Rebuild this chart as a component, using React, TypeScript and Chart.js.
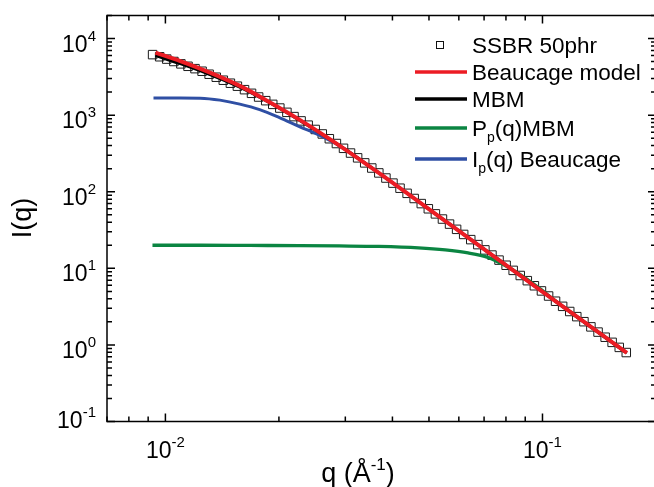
import React, { useEffect, useRef } from "react";
import { Chart, registerables } from "chart.js";

Chart.register(...registerables);

// Measured scattering curve: SSBR filled with 50 phr
const qData = [
  0.009247, 0.009655, 0.01008, 0.01053, 0.01099, 0.01148, 0.01198, 0.01251, 0.01306, 0.01364,
  0.01424, 0.01487, 0.01552, 0.01621, 0.01692, 0.01767, 0.01845, 0.01926, 0.02011, 0.021,
  0.02193, 0.0229, 0.02391, 0.02496, 0.02606, 0.02721, 0.02841, 0.02967, 0.03097, 0.03234,
  0.03377, 0.03526, 0.03681, 0.03844, 0.04013, 0.0419, 0.04375, 0.04568, 0.0477, 0.0498,
  0.052, 0.05429, 0.05669, 0.05919, 0.0618, 0.06453, 0.06738, 0.07035, 0.07345, 0.07669,
  0.08008, 0.08361, 0.0873, 0.09115, 0.09517, 0.09937, 0.1038, 0.1083, 0.1131, 0.1181,
  0.1233, 0.1288, 0.1344, 0.1404, 0.1466, 0.153, 0.1598, 0.1668,
];
const iData = [
  6170, 5788, 5392, 5017, 4670, 4344, 4045, 3744, 3423, 3127,
  2858, 2612, 2388, 2151, 1928, 1725, 1545, 1383, 1238, 1088,
  957, 841, 740, 650, 568, 492, 426, 369, 320, 277,
  238, 204, 176, 151, 129.6, 111.2, 95.3, 81.6, 70.0, 59.9,
  51.4, 44.0, 37.8, 32.3, 27.7, 23.7, 20.4, 17.4, 14.9, 12.8,
  10.97, 9.4, 8.06, 6.9, 5.92, 5.07, 4.35, 3.72, 3.19, 2.73,
  2.34, 2.01, 1.72, 1.47, 1.26, 1.08, 0.928, 0.795,
];

// Beaucage unified fit
const qBeaucage = [0.009412, 0.01095, 0.01313, 0.01575, 0.0189, 0.02266, 0.02888, 0.0368, 0.05623, 0.08594, 0.1236, 0.1674];
const iBeaucage = [6561, 5082, 3594, 2409, 1475, 873, 404, 176.2, 38.9, 8.52, 2.32, 0.786];

// MBM fit
const qMBM = [0.009412, 0.01095, 0.01313, 0.01575, 0.0189, 0.02266, 0.02888, 0.0368, 0.05623, 0.08594, 0.1236, 0.1674];
const iMBM = [5998, 4695, 3383, 2316, 1452, 858, 404, 176.2, 38.9, 8.52, 2.32, 0.786];

// Primary particle term of the MBM
const qPpMBM = [0.00924, 0.01236, 0.01674, 0.02266, 0.02888, 0.0368, 0.04689, 0.05524, 0.06347, 0.07163, 0.07847, 0.08594, 0.09701, 0.1095, 0.1313, 0.1654];
const iPpMBM = [20.0, 20.0, 19.9, 19.8, 19.6, 19.3, 18.5, 17.4, 15.9, 13.9, 11.3, 8.73, 5.73, 3.58, 1.87, 0.82];

// Primary particle level of the Beaucage fit
const qIpBeaucage = [0.009298, 0.01095, 0.01236, 0.01395, 0.01575, 0.01778, 0.02007, 0.02266, 0.02558, 0.02888, 0.0368, 0.05623, 0.08594, 0.1236, 0.1654];
const iIpBeaucage = [1678, 1678, 1668, 1571, 1393, 1180, 928, 708, 548, 400, 176.2, 38.9, 8.52, 2.32, 0.82];

// Axis tick labels (powers of ten)
const xTickValues = [0.01, 0.1];
const xTickExponents = ["-2", "-1"];
const yTickValues = [0.1, 1, 10, 100, 1000, 10000];
const yTickExponents = ["-1", "0", "1", "2", "3", "4"];

const X_MIN = 0.007;
const X_MAX = 0.2;
const Y_MIN = 0.1;
const Y_MAX = 20000;

const FONT = "'Liberation Sans', Arial, Helvetica, sans-serif";
const RED = "#ec1c24";
const BLACK = "#000000";
const GREEN = "#0b8542";
const BLUE = "#2f4fa4";

type Part = { text: string; size: number; dy: number };

const pairs = (xs: number[], ys: number[]) => xs.map((x, i) => ({ x, y: ys[i] }));

function logTicks(min: number, max: number) {
  const out: { v: number; major: boolean }[] = [];
  for (let d = Math.floor(Math.log10(min)); d <= Math.ceil(Math.log10(max)); d++) {
    for (let m = 1; m <= 9; m++) {
      const v = m * Math.pow(10, d);
      if (v >= min * 0.9999 && v <= max * 1.0001) out.push({ v, major: m === 1 });
    }
  }
  return out;
}

// Writes a run of text pieces, each with its own size and vertical shift
function drawScript(ctx: CanvasRenderingContext2D, x: number, y: number, parts: Part[]) {
  let cx = x;
  for (const p of parts) {
    ctx.font = `${p.size}px ${FONT}`;
    ctx.fillText(p.text, cx, y + p.dy);
    cx += ctx.measureText(p.text).width;
  }
  return cx - x;
}

function measureScript(ctx: CanvasRenderingContext2D, parts: Part[]) {
  let w = 0;
  for (const p of parts) {
    ctx.font = `${p.size}px ${FONT}`;
    w += ctx.measureText(p.text).width;
  }
  return w;
}

const powerLabel = (exp: string): Part[] => [
  { text: "10", size: 23, dy: 0 },
  { text: exp, size: 15, dy: -11 },
];

const framePlugin = {
  id: "frameAndLabels",
  afterDatasetsDraw(chart: any) {
    const { ctx, chartArea: a, scales } = chart;
    const xs = scales.x;
    const ys = scales.y;
    ctx.save();
    ctx.strokeStyle = "#000";
    ctx.fillStyle = "#000";
    ctx.lineWidth = 1.5;
    ctx.strokeRect(a.left, a.top, a.right - a.left, a.bottom - a.top);

    // inward ticks on all four sides
    ctx.beginPath();
    for (const t of logTicks(X_MIN, X_MAX)) {
      const px = xs.getPixelForValue(t.v);
      const len = t.major ? 8 : 5;
      ctx.moveTo(px, a.bottom);
      ctx.lineTo(px, a.bottom - len);
      ctx.moveTo(px, a.top);
      ctx.lineTo(px, a.top + len);
    }
    for (const t of logTicks(Y_MIN, Y_MAX)) {
      const py = ys.getPixelForValue(t.v);
      const len = t.major ? 8 : 5;
      ctx.moveTo(a.left, py);
      ctx.lineTo(a.left + len, py);
      ctx.moveTo(a.right, py);
      ctx.lineTo(a.right - len, py);
    }
    ctx.stroke();

    ctx.textBaseline = "alphabetic";
    ctx.textAlign = "left";

    // x tick labels
    xTickValues.forEach((v, i) => {
      const parts = powerLabel(xTickExponents[i]);
      const w = measureScript(ctx, parts);
      drawScript(ctx, xs.getPixelForValue(v) - w / 2, 458, parts);
    });

    // y tick labels; the lowest one is lifted a little above the x axis labels
    yTickValues.forEach((v, i) => {
      const parts = powerLabel(yTickExponents[i]);
      const w = measureScript(ctx, parts);
      const py = ys.getPixelForValue(v);
      const base = v === Y_MIN ? py + 6 : py + 13;
      drawScript(ctx, 96 - w, base, parts);
    });

    // axis titles
    const xt: Part[] = [
      { text: "q (Å", size: 27, dy: 0 },
      { text: "-1", size: 17, dy: -12 },
      { text: ")", size: 27, dy: 0 },
    ];
    const xw = measureScript(ctx, xt);
    drawScript(ctx, 358 - xw / 2, 482, xt);

    ctx.save();
    ctx.translate(31, 218);
    ctx.rotate(-Math.PI / 2);
    ctx.font = `27px ${FONT}`;
    ctx.textAlign = "center";
    ctx.fillText("I(q)", 0, 0);
    ctx.restore();

    // legend
    const lx0 = 415;
    const lx1 = 467;
    const tx = 472;
    ctx.lineWidth = 1;
    ctx.strokeStyle = "#111";
    ctx.strokeRect(440 - 3.5, 45 - 3.5, 7, 7);

    const rows: { y: number; color: string; parts: Part[] }[] = [
      { y: 45, color: "", parts: [{ text: "SSBR 50phr", size: 22.5, dy: 0 }] },
      { y: 72, color: RED, parts: [{ text: "Beaucage model", size: 22.5, dy: 0 }] },
      { y: 99, color: BLACK, parts: [{ text: "MBM", size: 22.5, dy: 0 }] },
      {
        y: 128,
        color: GREEN,
        parts: [
          { text: "P", size: 22.5, dy: 0 },
          { text: "p", size: 14, dy: 6 },
          { text: "(q)MBM", size: 22.5, dy: 0 },
        ],
      },
      {
        y: 159,
        color: BLUE,
        parts: [
          { text: "I", size: 22.5, dy: 0 },
          { text: "p", size: 14, dy: 6 },
          { text: "(q) Beaucage", size: 22.5, dy: 0 },
        ],
      },
    ];
    for (const r of rows) {
      if (r.color) {
        ctx.strokeStyle = r.color;
        ctx.lineWidth = 3.5;
        ctx.beginPath();
        ctx.moveTo(lx0, r.y);
        ctx.lineTo(lx1, r.y);
        ctx.stroke();
      }
      ctx.fillStyle = "#000";
      drawScript(ctx, tx, r.y + 8, r.parts);
    }
    ctx.restore();
  },
};

export default function App() {
  const canvasRef = useRef<HTMLCanvasElement | null>(null);

  useEffect(() => {
    const canvas = canvasRef.current;
    if (!canvas) return;
    const lineSet = (label: string, xs: number[], ys: number[], color: string, width: number, order: number) => ({
      label,
      data: pairs(xs, ys),
      showLine: true,
      borderColor: color,
      backgroundColor: color,
      borderWidth: width,
      pointRadius: 0,
      cubicInterpolationMode: "monotone" as const,
      order,
    });
    const chart = new Chart(canvas, {
      type: "scatter",
      data: {
        datasets: [
          {
            label: "SSBR 50phr",
            data: pairs(qData, iData),
            showLine: false,
            pointStyle: "rect",
            pointRadius: 6,
            borderColor: "#1a1a1a",
            backgroundColor: "rgba(0,0,0,0)",
            borderWidth: 1,
            order: 5,
          } as any,
          lineSet("Ip(q) Beaucage", qIpBeaucage, iIpBeaucage, BLUE, 3, 4),
          lineSet("Pp(q)MBM", qPpMBM, iPpMBM, GREEN, 3.3, 3),
          lineSet("MBM", qMBM, iMBM, BLACK, 3, 2),
          lineSet("Beaucage model", qBeaucage, iBeaucage, RED, 4, 1),
        ],
      },
      options: {
        responsive: false,
        animation: false,
        devicePixelRatio: 1,
        layout: { padding: { top: 15.5, right: 16, left: 0, bottom: 0 } },
        plugins: { legend: { display: false }, tooltip: { enabled: false } },
        scales: {
          x: {
            type: "logarithmic",
            min: X_MIN,
            max: X_MAX,
            ticks: { display: false },
            grid: { display: false },
            border: { display: false },
            afterFit: (s: any) => {
              s.height = 65.5;
            },
          },
          y: {
            type: "logarithmic",
            min: Y_MIN,
            max: Y_MAX,
            ticks: { display: false },
            grid: { display: false },
            border: { display: false },
            afterFit: (s: any) => {
              s.width = 107;
            },
          },
        },
      },
      plugins: [framePlugin],
    });
    return () => chart.destroy();
  }, []);

  return (
    <div
      style={{
        position: "fixed",
        left: 0,
        top: 0,
        width: 654,
        height: 487,
        overflow: "hidden",
        background: "#fff",
      }}
    >
      <canvas ref={canvasRef} width={672} height={487} style={{ width: 672, height: 487, display: "block" }} />
    </div>
  );
}
